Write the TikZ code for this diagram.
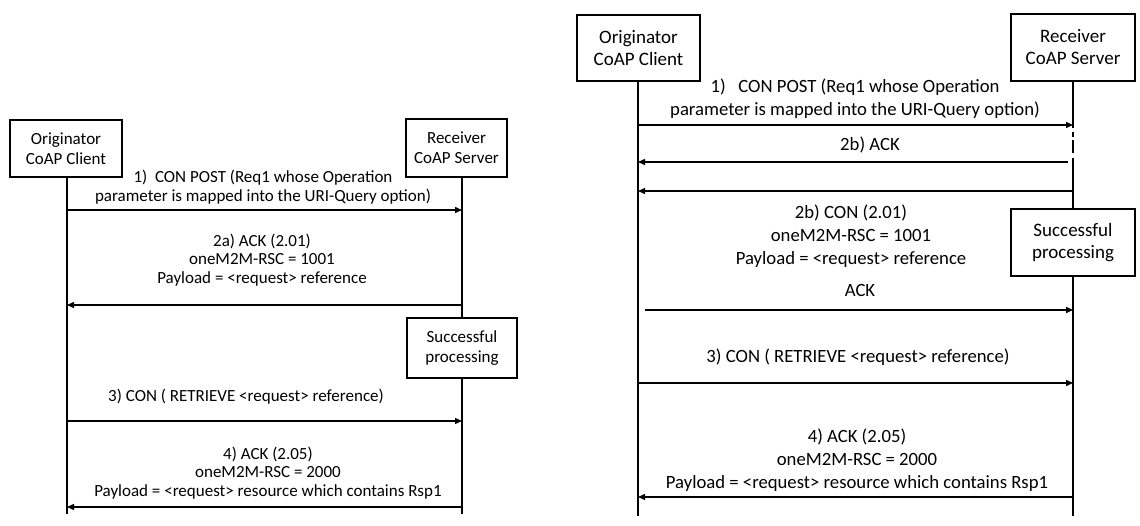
\documentclass[tikz,border=0pt]{standalone}
\usepackage{fontspec}
\setmainfont{Carlito}
\usetikzlibrary{arrows.meta}
\begin{document}
\begin{tikzpicture}[x=1pt,y=-1pt,
  box/.style={draw,line width=1.8pt,align=center,inner sep=0pt},
  life/.style={line width=1.5pt},
  msg/.style={line width=1.4pt,-{Triangle[length=7pt,width=6pt]}},
  lbl/.style={align=center,font=\fontsize{17}{18.5}\selectfont},
  lblr/.style={align=center,font=\fontsize{18.7}{23}\selectfont}]
\useasboundingbox (0,0) rectangle (1140,526);
% ---------- left diagram ----------
\node[box,minimum width=112pt,minimum height=57pt,font=\fontsize{17}{20}\selectfont] (lo) at (66,148.5) {Originator\\CoAP Client};
\node[box,minimum width=101pt,minimum height=58pt,font=\fontsize{17}{20}\selectfont] (lr) at (456.5,148) {Receiver\\CoAP Server};
\node[box,minimum width=110pt,minimum height=60pt,font=\fontsize{17}{20}\selectfont] (ls) at (462,348) {Successful\\processing};
\coordinate (loe) at (67,514);
\coordinate (lre) at (462,514);
\draw[life] (67,177) -- (loe);
\draw[life] (462,177) -- (462,318);
\draw[life] (462,378) -- (lre);
\coordinate (a1) at (67,210); \coordinate (b1) at (462,210);
\draw[msg] (a1) -- (b1);
\node[lbl] (t1) at (263,187) {1)\ \ CON POST (Req1 whose Operation\\parameter is mapped into the URI-Query option)};
\coordinate (a2) at (462,305); \coordinate (b2) at (67,305);
\draw[msg] (a2) -- (b2);
\node[lbl] (t2) at (262,260) {2a) ACK (2.01)\\oneM2M-RSC = 1001\\Payload = <request> reference};
\coordinate (a3) at (67,421); \coordinate (b3) at (462,421);
\draw[msg] (a3) -- (b3);
\node[lbl] (t3) at (246,397) {3) CON ( RETRIEVE <request> reference)};
\coordinate (a4) at (462,507); \coordinate (b4) at (67,507);
\draw[msg] (a4) -- (b4);
\node[lbl] (t4) at (268,473) {4) ACK (2.05)\\oneM2M-RSC = 2000\\Payload = <request> resource which contains Rsp1};
% ---------- right diagram ----------
\node[box,minimum width=123pt,minimum height=66pt,font=\fontsize{19}{22}\selectfont] (ro) at (638.5,48) {Originator\\CoAP Client};
\node[box,minimum width=124pt,minimum height=67pt,font=\fontsize{19}{22}\selectfont] (rr) at (1073,47.5) {Receiver\\CoAP Server};
\node[box,minimum width=124pt,minimum height=67pt,font=\fontsize{19}{22}\selectfont] (rs) at (1073,242.5) {Successful\\processing};
\coordinate (roe) at (638,516);
\coordinate (rre) at (1073,516);
\draw[life] (638,81) -- (roe);
\draw[life] (1073,81) -- (1073,128);
\draw[life] (1073,132) -- (1073,137);
\draw[life] (1073,140) -- (1073,153);
\draw[life] (1073,158) -- (1073,209);
\draw[life] (1073,276) -- (rre);
\coordinate (c1) at (638,125); \coordinate (d1) at (1073,125);
\draw[msg] (c1) -- (d1);
\node[lblr] (u1) at (855,99) {1)\ \ \ CON POST (Req1 whose Operation\\parameter is mapped into the URI-Query option)};
\coordinate (c2) at (1068,162); \coordinate (d2) at (638,162);
\draw[msg] (c2) -- (d2);
\node[lblr] (u2) at (870,145) {2b) ACK};
\coordinate (c3) at (1073,191); \coordinate (d3) at (638,191);
\draw[msg] (c3) -- (d3);
\node[lblr] (u3) at (851,236) {2b) CON (2.01)\\oneM2M-RSC = 1001\\Payload = <request> reference};
\coordinate (c4) at (645,310); \coordinate (d4) at (1073,310);
\draw[msg] (c4) -- (d4);
\node[lblr] (u4) at (860,290) {ACK};
\coordinate (c5) at (638,383); \coordinate (d5) at (1073,383);
\draw[msg] (c5) -- (d5);
\node[lblr] (u5) at (858,357) {3) CON ( RETRIEVE <request> reference)};
\coordinate (c6) at (1073,497); \coordinate (d6) at (638,497);
\draw[msg] (c6) -- (d6);
\node[lblr] (u6) at (857,460) {4) ACK (2.05)\\oneM2M-RSC = 2000\\Payload = <request> resource which contains Rsp1};
\end{tikzpicture}
\end{document}
